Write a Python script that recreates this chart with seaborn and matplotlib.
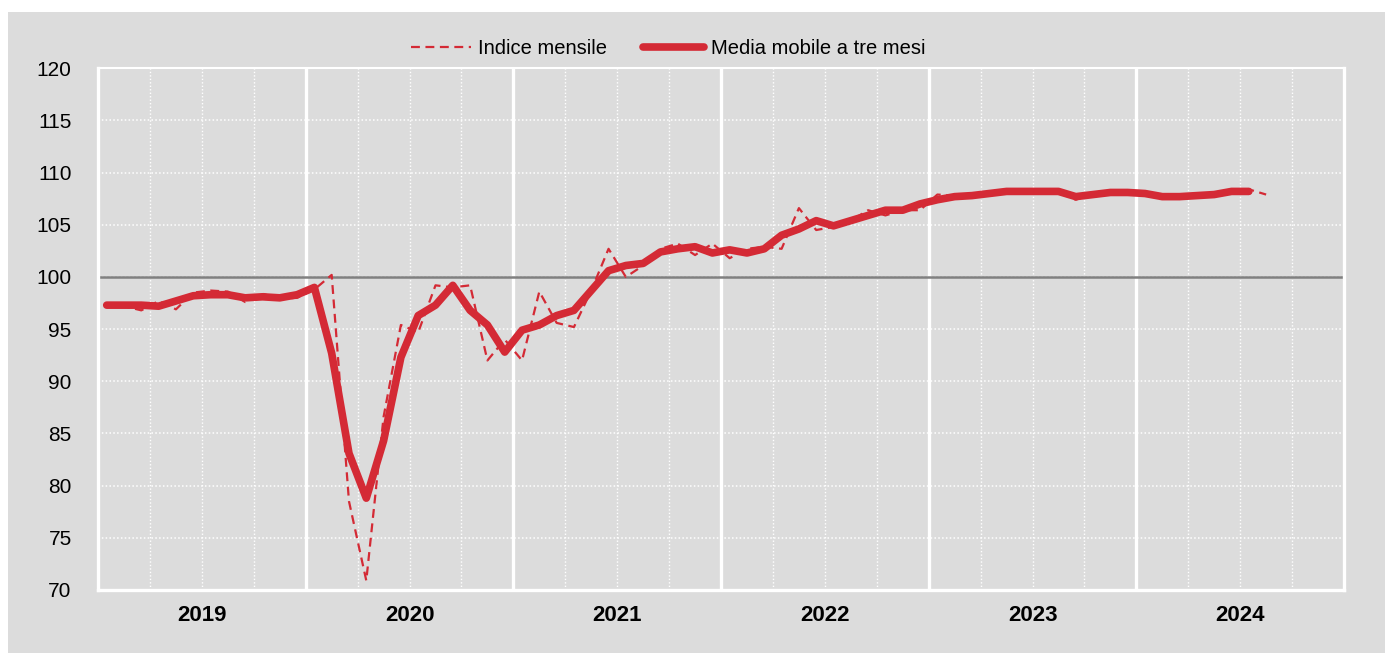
import matplotlib
matplotlib.use("Agg")
import matplotlib.pyplot as plt
from matplotlib.patches import Rectangle
import pandas as pd
import seaborn as sns

# --- data ---
years = ["2019", "2020", "2021", "2022", "2023", "2024"]

indice_mensile = [
    97.5, 97.2, 96.8, 97.7, 96.9, 98.5, 98.7, 98.6, 97.6, 98.4, 97.9, 98.0,      # 2019
    98.8, 100.2, 78.5, 70.9, 86.6, 95.4, 94.7, 99.2, 99.0, 99.2, 92.0, 94.0,     # 2020
    92.0, 98.6, 95.6, 95.2, 98.7, 102.7, 100.0, 101.1, 102.7, 103.2, 102.1, 103.2,  # 2021
    101.8, 102.7, 102.9, 102.7, 106.6, 104.5, 104.8, 105.4, 106.4, 105.9, 106.4, 106.4,  # 2022
    107.9, 107.8, 107.9, 108.2, 108.1, 108.3, 108.2, 108.1, 107.4, 108.0, 108.0, 108.2,  # 2023
    107.9, 107.6, 107.7, 107.8, 107.9, 108.1, 108.4, 107.9,                      # 2024
]

media_mobile = [
    97.3, 97.3, 97.3, 97.2, 97.7, 98.2, 98.3, 98.3, 98.0, 98.1, 98.0, 98.3,
    99.0, 92.7, 83.1, 78.8, 84.3, 92.3, 96.3, 97.3, 99.2, 96.8, 95.4, 92.8,
    94.9, 95.4, 96.3, 96.8, 98.7, 100.6, 101.1, 101.3, 102.4, 102.7, 102.9, 102.3,
    102.6, 102.3, 102.7, 104.0, 104.6, 105.4, 104.9, 105.4, 105.9, 106.4, 106.4, 107.0,
    107.4, 107.7, 107.8, 108.0, 108.2, 108.2, 108.2, 108.2, 107.7, 107.9, 108.1, 108.1,
    108.0, 107.7, 107.7, 107.8, 107.9, 108.2, 108.2,
]

y_ticks = [70, 75, 80, 85, 90, 95, 100, 105, 110, 115, 120]

# --- style ---
RED = "#D42A35"
PANEL = "#DCDCDC"
FONT = ["Liberation Sans Narrow", "Liberation Sans", "DejaVu Sans"]

sns.set_style("white")
plt.rcParams["font.family"] = FONT
plt.rcParams["text.color"] = "black"
plt.rcParams["xtick.color"] = "black"
plt.rcParams["ytick.color"] = "black"

df_m = pd.DataFrame({"x": [i + 0.5 for i in range(len(indice_mensile))],
                     "v": indice_mensile})
df_a = pd.DataFrame({"x": [i + 0.5 for i in range(len(media_mobile))],
                     "v": media_mobile})

fig = plt.figure(figsize=(13.89, 6.53), dpi=100, facecolor="white")
fig.patches.append(Rectangle((8 / 1389, 0), 1377 / 1389, 641 / 653,
                             transform=fig.transFigure, facecolor=PANEL,
                             edgecolor="none", zorder=-10))
ax = fig.add_axes([0.0706, 0.0965, 0.897, 0.7989])
ax.set_facecolor(PANEL)

n_months = 12 * len(years)
ax.set_xlim(0, n_months)
ax.set_ylim(y_ticks[0], y_ticks[-1])

# grid: dotted horizontal, dotted quarterly, solid yearly
for y in y_ticks[1:-1]:
    ax.axhline(y, color="white", lw=1.1, ls=(0, (1, 1.5)), zorder=1)
for q in range(3, n_months, 3):
    if q % 12:
        ax.axvline(q, color="white", lw=1.0, ls=(0, (1, 1.5)), zorder=1)
    else:
        ax.axvline(q, color="white", lw=2.4, zorder=1)
ax.axhline(100, color="#808080", lw=1.8, zorder=2)

sns.lineplot(data=df_m, x="x", y="v", ax=ax, color=RED, lw=1.6,
             linestyle=(0, (4, 2.5)), label="Indice mensile", zorder=3)
sns.lineplot(data=df_a, x="x", y="v", ax=ax, color=RED, lw=5.5,
             solid_capstyle="round", label="Media mobile a tre mesi", zorder=4)

for s in ["left", "bottom", "right"]:
    ax.spines[s].set_color("white")
    ax.spines[s].set_linewidth(2.4)
ax.spines["top"].set_color("white")
ax.spines["top"].set_linewidth(1.5)

ax.set_yticks(y_ticks)
ax.set_yticklabels([str(t) for t in y_ticks], fontsize=15)
ax.set_xticks([12 * i + 6 for i in range(len(years))])
ax.set_xticklabels(years, fontsize=16, fontweight="bold")
ax.tick_params(axis="y", length=0, pad=19)
ax.tick_params(axis="x", length=0, pad=11)
ax.set_xlabel("")
ax.set_ylabel("")

ax.get_legend().remove()
h, l = ax.get_legend_handles_labels()
fig.legend(h, l, loc="center", bbox_to_anchor=(0.481, 0.925), ncol=2,
           frameon=False, fontsize=14.5, handlelength=3.0, columnspacing=1.8,
           handletextpad=0.35, labelcolor="black")

fig.savefig("out.png", dpi=100, facecolor="white")
